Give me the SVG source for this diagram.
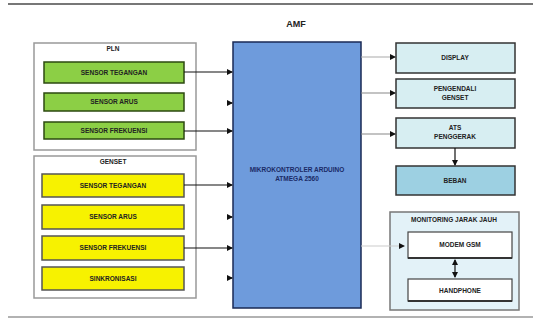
<svg xmlns="http://www.w3.org/2000/svg" width="533" height="327" viewBox="0 0 533 327">
<defs>
<marker id="ah" viewBox="0 0 6 6" refX="5" refY="3" markerWidth="5" markerHeight="5" orient="auto-start-reverse"><path d="M0,0 L6,3 L0,6 z" fill="#111"/></marker>
<style>
text{font-family:"Liberation Sans",Arial,sans-serif;font-weight:bold;text-anchor:middle;fill:#222}
.t{font-size:6.5px}
.grp{fill:#fff;stroke:#999;stroke-width:1.5}
.g{fill:#8ccf45;stroke:#2d4a10;stroke-width:1.5}
.y{fill:#f7f200;stroke:#555;stroke-width:1.5}
.c{fill:#d7eef2;stroke:#333;stroke-width:1.5}
.c2{fill:#9dd0e2;stroke:#333;stroke-width:1.5}
.w{fill:#fff;stroke:#444;stroke-width:1.2}
.ln{stroke:#111;stroke-width:1.2;fill:none;marker-end:url(#ah)}
</style>
</defs>
<rect width="533" height="327" fill="#fff"/>
<line x1="8" y1="4" x2="533" y2="4" stroke="#777" stroke-width="2"/>
<line x1="8" y1="317" x2="533" y2="317" stroke="#999" stroke-width="1.5"/>
<text x="296" y="27" font-size="9">AMF</text>

<g id="pln"><rect class="grp" x="34" y="43" width="162" height="107"/><text class="t" x="113" y="51">PLN</text></g>
<g id="pln-v"><rect class="g" x="44" y="62" width="140" height="21"/><text class="t" x="114" y="75">SENSOR TEGANGAN</text></g>
<g id="pln-a"><rect class="g" x="44" y="93" width="140" height="18"/><text class="t" x="114" y="104">SENSOR ARUS</text></g>
<g id="pln-f"><rect class="g" x="44" y="122" width="140" height="17"/><text class="t" x="114" y="133">SENSOR FREKUENSI</text></g>

<g id="genset"><rect class="grp" x="34" y="156" width="162" height="142"/><text class="t" x="113" y="164">GENSET</text></g>
<g id="gen-v"><rect class="y" x="42" y="174" width="142" height="23"/><text class="t" x="113" y="188">SENSOR TEGANGAN</text></g>
<g id="gen-a"><rect class="y" x="42" y="205" width="142" height="24"/><text class="t" x="113" y="219">SENSOR ARUS</text></g>
<g id="gen-f"><rect class="y" x="42" y="236" width="142" height="24"/><text class="t" x="113" y="250">SENSOR FREKUENSI</text></g>
<g id="gen-s"><rect class="y" x="42" y="267" width="142" height="23"/><text class="t" x="113" y="281">SINKRONISASI</text></g>

<g id="mcu"><rect x="233" y="42" width="128" height="266" fill="#6e9bdc" stroke="#1a2a55" stroke-width="1.5"/>
<text class="t" x="297" y="172" style="fill:#1a2a66">MIKROKONTROLER ARDUINO</text>
<text class="t" x="297" y="181" style="fill:#1a2a66">ATMEGA 2560</text></g>

<g id="display"><rect class="c" x="396" y="43" width="119" height="30"/><text class="t" x="455" y="60">DISPLAY</text></g>
<g id="pengendali"><rect class="c" x="396" y="79" width="119" height="29"/><text class="t" x="455" y="91">PENGENDALI</text><text class="t" x="455" y="100">GENSET</text></g>
<g id="ats"><rect class="c" x="396" y="118" width="119" height="30"/><text class="t" x="455" y="130">ATS</text><text class="t" x="455" y="139">PENGGERAK</text></g>
<g id="beban"><rect class="c2" x="396" y="166" width="119" height="29"/><text class="t" x="455" y="183">BEBAN</text></g>

<g id="monitoring"><rect x="390" y="212" width="129" height="98" fill="#e3f2f8" stroke="#777" stroke-width="1.5"/><text class="t" x="454" y="222">MONITORING JARAK JAUH</text></g>
<g id="modem"><rect class="w" x="408" y="232" width="104" height="26"/><line x1="408" y1="258" x2="512" y2="258" stroke="#333" stroke-width="2"/><text class="t" x="460" y="247">MODEM GSM</text></g>
<g id="hp"><rect class="w" x="408" y="279" width="104" height="22"/><line x1="408" y1="301" x2="512" y2="301" stroke="#333" stroke-width="2"/><text class="t" x="460" y="293">HANDPHONE</text></g>

<g id="connectors">
<line class="ln" x1="184" y1="72" x2="232" y2="72"/>
<line class="ln" x1="229" y1="103" x2="232" y2="103"/>
<line class="ln" x1="184" y1="131" x2="232" y2="131"/>
<line class="ln" x1="184" y1="185" x2="232" y2="185"/>
<line class="ln" x1="229" y1="217" x2="232" y2="217"/>
<line class="ln" x1="184" y1="248" x2="232" y2="248"/>
<line class="ln" x1="229" y1="278" x2="232" y2="278"/>
<line class="ln" x1="361" y1="57" x2="395" y2="57" style="stroke:#aaa"/>
<line class="ln" x1="361" y1="93" x2="395" y2="93" style="stroke:#888"/>
<line class="ln" x1="361" y1="134" x2="395" y2="134" style="stroke:#888"/>
<line class="ln" x1="455" y1="148" x2="455" y2="165"/>
<line class="ln" x1="361" y1="246" x2="404" y2="246" style="stroke:#ccc"/>
<line x1="455" y1="260" x2="455" y2="277" stroke="#111" stroke-width="1.2" marker-start="url(#ah)" marker-end="url(#ah)"/>
</g>
</svg>
